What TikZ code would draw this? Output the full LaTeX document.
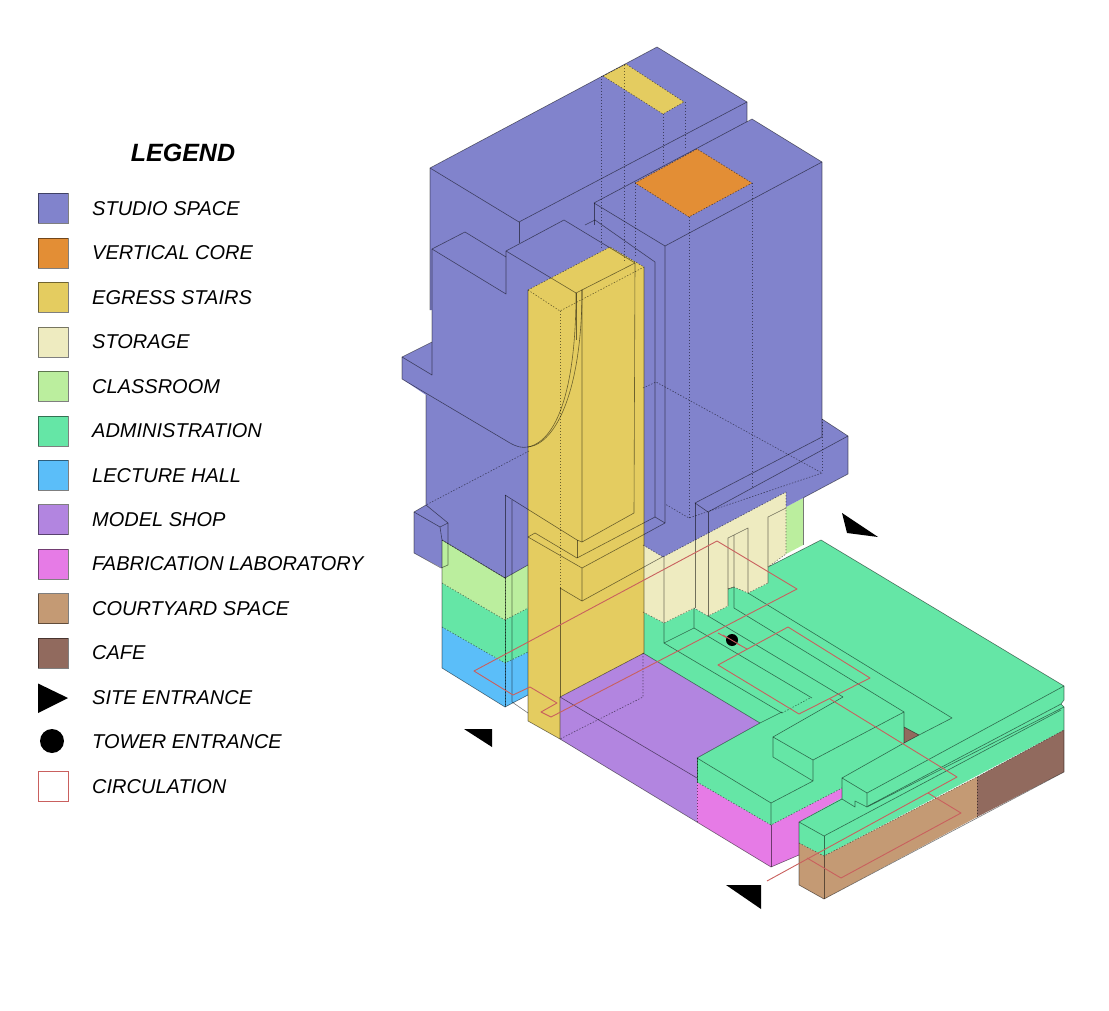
\documentclass[tikz,border=0pt]{standalone}
\usepackage{fontspec}
\setmainfont{Liberation Sans}
\definecolor{cStudio}{HTML}{8183CC}
\definecolor{cCore}{HTML}{E38E35}
\definecolor{cEgress}{HTML}{E4CC60}
\definecolor{cStorage}{HTML}{EEEBC0}
\definecolor{cClass}{HTML}{BBEE9E}
\definecolor{cAdmin}{HTML}{65E6A6}
\definecolor{cLecture}{HTML}{5BBEF9}
\definecolor{cModel}{HTML}{B285E0}
\definecolor{cFab}{HTML}{E67BE6}
\definecolor{cCourt}{HTML}{C49A74}
\definecolor{cCafe}{HTML}{916A5E}
\definecolor{cCirc}{HTML}{C9605E}
\tikzset{
 ln/.style={draw=black,draw opacity=.52,line width=.6pt,line join=round},
 dotl/.style={ln,dash pattern=on 1.4pt off 1.6pt},
 circ/.style={draw=cCirc,line width=.9pt,line join=round},
 swatch/.style={draw=black,draw opacity=.5,line width=.6pt,minimum size=30pt,inner sep=0pt,outer sep=0pt,anchor=north west},
 lab/.style={anchor=west,inner sep=0pt,font=\fontsize{20}{24}\selectfont\itshape},
 blk/.style={fill=black,draw=none}
}
\begin{document}
\begin{tikzpicture}[x=1pt,y=-1pt]
\useasboundingbox (0,0) rectangle (1109,1011);
% ---------- legend
\node[anchor=center,inner sep=0pt,font=\fontsize{25}{28}\selectfont\bfseries\itshape] (title) at (183,153) {LEGEND};
\node[swatch,fill=cStudio] (s1) at (38,193.5) {};
\node[swatch,fill=cCore] (s2) at (38,238) {};
\node[swatch,fill=cEgress] (s3) at (38,282.4) {};
\node[swatch,fill=cStorage] (s4) at (38,326.8) {};
\node[swatch,fill=cClass] (s5) at (38,371.3) {};
\node[swatch,fill=cAdmin] (s6) at (38,415.8) {};
\node[swatch,fill=cLecture] (s7) at (38,460.2) {};
\node[swatch,fill=cModel] (s8) at (38,504.6) {};
\node[swatch,fill=cFab] (s9) at (38,549) {};
\node[swatch,fill=cCourt] (s10) at (38,593.5) {};
\node[swatch,fill=cCafe] (s11) at (38,638) {};
\node[swatch,draw=cCirc,draw opacity=1,fill=white] (s14) at (38,771) {};
\fill[blk] (38,683.5) -- (68,698) -- (38,713) -- cycle;
\fill[blk] (52,741) circle (12);
\node[lab] (l1) at (92,208.5) {STUDIO SPACE};
\node[lab] (l2) at (92,253) {VERTICAL CORE};
\node[lab] (l3) at (92,297.4) {EGRESS STAIRS};
\node[lab] (l4) at (92,341.8) {STORAGE};
\node[lab] (l5) at (92,386.3) {CLASSROOM};
\node[lab] (l6) at (92,430.8) {ADMINISTRATION};
\node[lab] (l7) at (92,475.2) {LECTURE HALL};
\node[lab] (l8) at (92,519.6) {MODEL SHOP};
\node[lab] (l9) at (92,564) {FABRICATION LABORATORY};
\node[lab] (l10) at (92,608.5) {COURTYARD SPACE};
\node[lab] (l11) at (92,653) {CAFE};
\node[lab] (l12) at (92,697.4) {SITE ENTRANCE};
\node[lab] (l13) at (92,741.8) {TOWER ENTRANCE};
\node[lab] (l14) at (92,786.3) {CIRCULATION};
% ---------- fills
\fill[cClass] (786,507) -- (803,498) -- (803,545) -- (786,554) -- cycle;
\fill[cLecture] (442,627) -- (505,663) -- (528,652) -- (528,695) -- (505,707) -- (442,668) -- cycle;
\fill[cAdmin] (442,583) -- (505,620) -- (528,608) -- (528,652) -- (505,663) -- (442,627) -- cycle;
\fill[cClass] (442,540) -- (505,578) -- (528,565) -- (528,608) -- (505,620) -- (442,583) -- cycle;
\fill[cModel] (643,653) -- (760,723) -- (697,758) -- (697,822) -- (560,739) -- (560,697) -- cycle;
\fill[cFab] (697,782) -- (771,825) -- (842,788) -- (842,798) -- (799,822) -- (799,855) -- (771,867) -- (697,822) -- cycle;
\fill[cAdmin] (643,612) -- (664,623) -- (694,608) -- (708,616) -- (728,606) -- (728,588) -- (734,587) -- (748,593) -- (768,583) -- (768,567) -- (821,540) -- (1064,686) -- (1064,700) -- (1061,704) -- (1064,707) -- (1064,730) -- (824,856) -- (799,843) -- (799,822) -- (842,798) -- (842,788) -- (771,825) -- (697,782) -- (697,758) -- (760,723) -- (643,653) -- cycle;
\fill[cCafe] (904,727) -- (919,735) -- (904,743) -- cycle;
\fill[cCourt] (799,843) -- (824,856) -- (977,777) -- (977,817) -- (824,899) -- (799,885) -- cycle;
\fill[cCafe] (977,777) -- (1064,730) -- (1064,772) -- (977,817) -- cycle;
\fill[cStorage] (643,545) -- (663,557) -- (786,492) -- (786,554) -- (768,567) -- (768,583) -- (748,593) -- (734,587) -- (728,589) -- (728,606) -- (708,616) -- (695,608) -- (664,623) -- (643,612) -- cycle;
\fill[cStudio] (430,168) -- (657,47) -- (747,102) -- (747,122) -- (752,119) -- (822,162) -- (822,419) -- (848,436) -- (848,474) -- (803,498) -- (786,507) -- (786,492) -- (663,557) -- (643,545) -- (528,565) -- (505,578) -- (448,543.5) -- (442,540) -- (442,568) -- (414,553) -- (414,512) -- (426,505) -- (426,395) -- (402,379) -- (402,357) -- (432,342) -- (432,310) -- (430,310) -- cycle;
\fill[cCore] (635,183) -- (697,149) -- (752,183) -- (689,217) -- cycle;
\fill[cEgress] (603,76) -- (626,64) -- (684,102) -- (663,114) -- cycle;
\fill[cEgress] (528,290) -- (610,247) -- (644,267) -- (644,653) -- (560,697) -- (560,739) -- (528,721) -- cycle;
% ---------- solid outlines: tower
\draw[ln] (430,310) -- (430,168) -- (657,47) -- (747,102) -- (747,122);
\draw[ln] (430,168) -- (519,222) -- (747,102);
\draw[ln] (519,222) -- (519,243);
\draw[ln] (432,375) -- (432,249) -- (465,232) -- (506,257);
\draw[ln] (432,249) -- (506,294) -- (506,251) -- (564,220) -- (635,263);
\draw[ln] (506,251) -- (576,293) -- (635,263);
\draw[ln] (585,225) -- (595,220) -- (655,262) -- (655,517);
\draw[ln] (594,203) -- (752,119) -- (822,162) -- (822,437);
\draw[ln] (594,203) -- (665,246) -- (822,162);
\draw[ln] (594,203) -- (594,225);
\draw[ln] (665,246) -- (665,523) -- (643,535);
\draw[ln] (655,517) -- (665,523);
\draw[ln] (432,342) -- (402,357) -- (402,379) -- (510,443) .. controls (517,447) and (522,448) .. (528,447);
\draw[ln] (402,357) -- (432,375);
\draw[ln] (528,447) .. controls (560,440) and (576,380) .. (576,293);
\draw[ln] (528,447) .. controls (556,444) and (582,390) .. (582,290);
\draw[ln] (426,395) -- (426,505) -- (414,512) -- (414,553) -- (441,568) -- (448,565) -- (448,523) -- (426,505);
\draw[ln] (414,512) -- (440,527) -- (442,540);
\draw[ln] (440,527) -- (448,523);
% plinth
\draw[ln] (822,419) -- (848,436) -- (848,474) -- (803,498);
\draw[ln] (822,437) -- (695,503) -- (708,512) -- (848,436);
\draw[ln] (695,503) -- (695,608);
\draw[ln] (708,512) -- (708,616);
% stair column
\draw[ln] (528,290) -- (528,721) -- (560,739) -- (560,697) -- (644,653) -- (644,267);
\draw[ln] (576,293) -- (576,340);
\draw[ln] (582,290) -- (582,542) -- (634,513) -- (635,263);
\draw[ln] (505,495) -- (577,540) -- (582,542);
\draw[ln] (577,540) -- (577,558);
\draw[ln] (535,533) -- (577,558) -- (655,517);
\draw[ln] (528,537) -- (535,533);
\draw[ln] (528,537) -- (582,568) -- (582,601) -- (560,588);
\draw[ln] (582,568) -- (643,535);
\draw[ln] (582,601) -- (664,556);
\draw[ln] (560,588) -- (560,697);
% left stack
\draw[ln] (442,540) -- (442,668) -- (505,707) -- (528,695);
\draw[ln] (505,578) -- (528,565);
\draw[ln] (505,578) -- (442,540);
\draw[ln] (505,495) -- (505,707);
\draw[ln] (512,500) -- (512,702) -- (528,713);
% model shop, fab
\draw[ln] (560,697) -- (697,778);
\draw[ln] (643,653) -- (760,723);
\draw[ln] (560,739) -- (771,867) -- (799,855);
\draw[ln] (771,825) -- (771,867);
\draw[ln] (697,758) -- (760,723) -- (782,712);
\draw[ln] (697,758) -- (697,782);
\draw[ln] (697,758) -- (771,803) -- (771,825);
\draw[ln] (771,803) -- (813,781) -- (813,760) -- (773,737) -- (773,757) -- (813,781);
\draw[ln] (813,760) -- (904,712) -- (904,743) -- (842,778);
\draw[ln] (773,737) -- (843,697);
% ground lines
\draw[ln] (664,557) -- (664,643) -- (694,628) -- (694,608);
\draw[ln] (664,643) -- (782,713);
\draw[ln] (694,628) -- (812,698);
\draw[ln] (708,616) -- (843,697);
\draw[ln] (734,535) -- (734,608) -- (904,712);
\draw[ln] (748,593) -- (952,718) -- (919,735) -- (904,727);
\draw[ln] (728,606) -- (728,538) -- (748,528) -- (748,593);
\draw[ln] (768,583) -- (768,517) -- (786,508);
\draw[ln] (734,587) -- (728,589);
\draw[ln] (919,735) -- (904,743);
% top right ground
\draw[ln] (768,567) -- (821,540) -- (1064,686) -- (1064,700) -- (1061,704) -- (1064,707) -- (1064,772) -- (824,899) -- (799,885) -- (799,822) -- (842,799);
\draw[ln] (1064,686) -- (867,793) -- (867,807) -- (1064,707);
\draw[ln] (867,793) -- (842,778) -- (842,799) -- (855,807) -- (855,801) -- (863,805) -- (867,807);
\draw[ln] (1061,704) -- (868,806);
\draw[ln] (799,822) -- (824,836) -- (1061,710);
\draw[ln] (824,836) -- (824,899);
\draw[ln] (803,498) -- (803,545);
% ---------- dotted edges
\draw[dotl] (603,76) -- (626,64) -- (684,102) -- (663,114) -- cycle;
\draw[dotl] (635,183) -- (697,149) -- (752,183) -- (689,217) -- cycle;
\draw[dotl] (601,76) -- (601,248);
\draw[dotl] (624.5,65) -- (624.5,262);
\draw[dotl] (663,114) -- (663,165);
\draw[dotl] (685,102) -- (685,150);
\draw[dotl] (635,183) -- (635,257);
\draw[dotl] (689,217) -- (689,518);
\draw[dotl] (752,183) -- (752,487);
\draw[dotl] (528,290) -- (610,247) -- (644,267);
\draw[dotl] (528,290) -- (560,311) -- (644,267);
\draw[dotl] (560,311) -- (560,588);
\draw[dotl] (643,388) -- (656,382) -- (822,473) -- (689,518) -- (665,504);
\draw[dotl] (822,419) -- (822,473);
\draw[dotl] (529,451) -- (426,505);
\draw[dotl] (643,653) -- (643,697) -- (560,739);
\draw[dotl] (442,583) -- (505,620) -- (528,608);
\draw[dotl] (442,627) -- (505,663) -- (528,652);
\draw[dotl] (505,578) -- (505,707);
\draw[dotl] (786,492) -- (786,554) -- (768,567);
\draw[dotl] (643,612) -- (664,623) -- (694,608) -- (708,616) -- (728,606);
\draw[dotl] (728,589) -- (734,587) -- (748,593) -- (768,583);
\draw[dotl] (643,545) -- (663,557) -- (786,492);
\draw[dotl] (697,758) -- (697,822);
\draw[dotl] (697,782) -- (771,825) -- (842,788);
\draw[dotl] (782,713) -- (810,698);
\draw[dotl] (799,843) -- (824,856) -- (977,777) -- (1064,730);
\draw[dotl] (977,777) -- (977,817);
\draw[dotl] (442,540) -- (505,578);
% ---------- circulation
\draw[circ] (474,671) -- (717,541) -- (797,589) -- (551,717) -- (541,712) -- (557,703) -- (530,687) -- (513,695) -- cycle;
\draw[circ] (718,665) -- (788,627) -- (870,678) -- (799,714) -- cycle;
\draw[circ] (718,633) -- (747,649);
\draw[circ] (830,699) -- (957,777) -- (767,881);
\draw[circ] (928,793) -- (961,813) -- (841,878) -- (807,858);
% ---------- entrance marks
\fill[blk] (732,640) circle (6);
\draw[draw=cCirc,line width=.9pt] (723,635) -- (740,645);
\fill[blk] (842,513) -- (878,537) -- (847,533) -- cycle;
\fill[blk] (464,729) -- (492,729) -- (492,747) -- cycle;
\fill[blk] (726,885) -- (761,885) -- (761,909) -- cycle;
\end{tikzpicture}
\end{document}
